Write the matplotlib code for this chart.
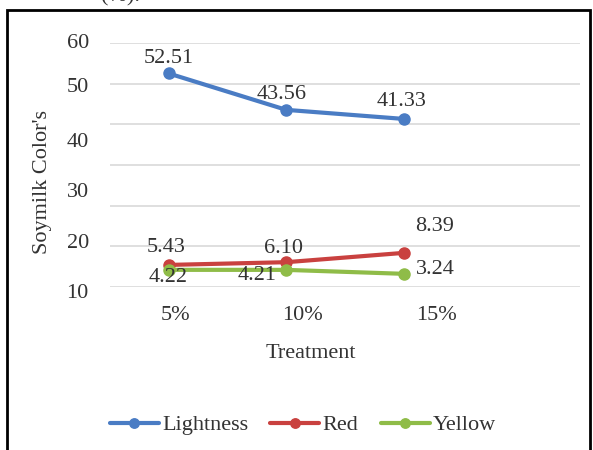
# soymilk colour values per treatment, line chart

import matplotlib.pyplot as plt
from matplotlib.patches import Rectangle

treatments = ["5%", "10%", "15%"]
lightness = [52.51, 43.56, 41.33]
red = [5.43, 6.10, 8.39]
yellow = [4.22, 4.21, 3.24]
series_names = ["Lightness", "Red", "Yellow"]
y_labels = ["60", "50", "40", "30", "20", "10"]

colors = ["#4a7cc4", "#c9413f", "#8fbc48"]
text_color = "#333333"
plt.rcParams["font.family"] = ["Liberation Serif", "DejaVu Serif"]
plt.rcParams["font.size"] = 16

fig = plt.figure(figsize=(5.93, 4.5), dpi=100)
ax = fig.add_axes([110 / 593, 1 - 287 / 450, 470 / 593, 244 / 450])

x = list(range(len(treatments)))
# label offsets in pixels (dx, dy) for each point, as placed in the original
label_offsets = [
    [(0, 15), (-5, 15), (-2, 17)],
    [(-3, 17), (-3, 14), (31, 26)],
    [(-1, -8), (-29, -6), (32, 4)],
]

for vals, name, col, offs in zip([lightness, red, yellow], series_names, colors, label_offsets):
    ax.plot(x, vals, color=col, lw=3, marker="o", ms=8, label=name, solid_capstyle="round")
    for xi, v, (dx, dy) in zip(x, vals, offs):
        ax.annotate(f"{v:.2f}", (xi, v), xytext=(dx * 0.72, dy * 0.72), textcoords="offset points",
                    ha="center", va="center", color=text_color)

ax.set_xlim(-0.5, 3.5)
ax.set_ylim(0, 60)
ax.set_yticks(range(0, 61, 10))
ax.set_xticks([])
ax.tick_params(axis="y", length=0, labelleft=False)
ax.grid(axis="y", color="#d9d9d9", lw=1.2)
ax.set_axisbelow(True)
for s in ax.spines.values():
    s.set_visible(False)

# y tick texts sit a little off the gridlines in the original
y_label_pos = [60, 49, 35.6, 23.3, 10.8, -1.5]
for lab, yp in zip(y_labels, y_label_pos):
    ax.text(-0.045, yp, lab, transform=ax.get_yaxis_transform(), ha="right", va="center",
            color=text_color, clip_on=False)

x_label_shift = [0.06, 0.14, 0.28]
for xi, lab, sh in zip(x, treatments, x_label_shift):
    ax.text(xi + sh, -7, lab, ha="center", va="center", color=text_color, clip_on=False)

fig.text(311 / 593, 1 - 353 / 450, "Treatment", ha="center", va="center", color=text_color)
fig.text(43 / 593, 1 - 182 / 450, "Soymilk Color's", ha="center", va="center",
         rotation=90, color=text_color)

leg = fig.legend(loc="center", bbox_to_anchor=(303 / 593, 1 - 425 / 450), ncol=3, frameon=False,
                 handlelength=2.2, columnspacing=1.0, handletextpad=0.15, markerscale=0.85,
                 prop={"family": ["Liberation Serif", "DejaVu Serif"], "size": 16})
for t in leg.get_texts():
    t.set_color(text_color)

# chart border and the cut-off caption line above it
fig.add_artist(Rectangle((7 / 593, -0.02), 583 / 593, 1 - 10 / 450 + 0.02,
                         transform=fig.transFigure, fill=False, ec="black", lw=2))
fig.text(140 / 593, 1 - 1 / 450, "(%).", ha="right", va="baseline", color=text_color)

plt.savefig("out.png", dpi=100)
